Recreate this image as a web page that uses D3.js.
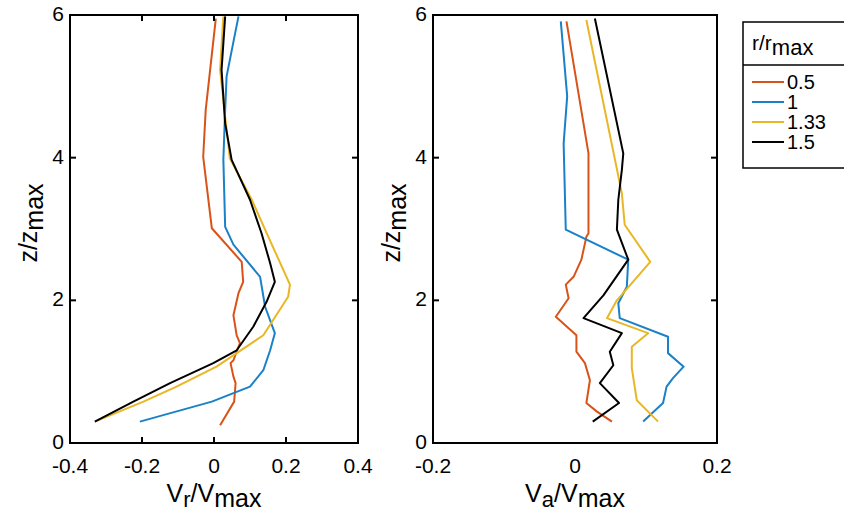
<!DOCTYPE html>
<html><head><meta charset="utf-8">
<script src="https://cdn.jsdelivr.net/npm/d3@7"></script>
<style>body{margin:0;background:#fff}svg{display:block;font-family:"Liberation Sans",Arial,sans-serif}</style>
</head><body><svg id="c" width="844" height="514"></svg>
<script>
// ---- data ----
const seriesNames = ["0.5", "1", "1.33", "1.5"];
const seriesColors = ["#D95319", "#1A80C8", "#E9B626", "#000000"];
// Left panel: [Vr/Vmax, z/zmax]
const vr_05 = [[0.017,0.25],[0.056,0.58],[0.06,0.84],[0.054,0.93],[0.046,1.12],[0.054,1.16],[0.072,1.40],[0.063,1.51],[0.054,1.79],[0.068,2.10],[0.081,2.26],[0.077,2.54],[-0.006,3.01],[-0.03,4.01],[-0.023,4.67],[0.005,5.95]];
const vr_1 = [[-0.206,0.30],[-0.006,0.58],[0.1,0.79],[0.137,1.02],[0.156,1.30],[0.169,1.54],[0.142,1.91],[0.128,2.33],[0.054,2.78],[0.031,3.03],[0.026,3.97],[0.031,4.67],[0.035,5.14],[0.068,5.98]];
const vr_133 = [[-0.331,0.30],[-0.196,0.58],[-0.104,0.79],[0.007,1.07],[0.063,1.26],[0.137,1.51],[0.206,2.05],[0.211,2.22],[0.151,2.89],[0.105,3.41],[0.044,3.99],[0.031,4.57],[0.017,5.23],[0.026,5.98]];
const vr_15 = [[-0.331,0.30],[-0.224,0.58],[-0.122,0.84],[-0.002,1.12],[0.063,1.30],[0.109,1.63],[0.146,1.98],[0.169,2.26],[0.156,2.52],[0.132,2.94],[0.1,3.41],[0.049,3.97],[0.031,4.48],[0.021,5.23],[0.031,5.98]];
// Right panel: [Va/Vmax, z/zmax]
const va_05 = [[0.052,0.30],[0.031,0.44],[0.016,0.56],[0.021,0.88],[0.014,1.12],[0.002,1.28],[0.002,1.51],[-0.027,1.77],[-0.009,2.03],[-0.013,2.22],[-0.002,2.33],[0.009,2.57],[0.016,2.89],[0.019,2.94],[0.019,4.06],[-0.012,5.91]];
const va_1 = [[0.096,0.30],[0.124,0.56],[0.129,0.79],[0.138,0.91],[0.153,1.07],[0.131,1.26],[0.131,1.49],[0.063,1.75],[0.061,1.96],[0.073,2.19],[0.075,2.57],[-0.013,2.99],[-0.016,4.20],[-0.011,4.86],[-0.020,5.91]];
const va_133 = [[0.117,0.30],[0.087,0.60],[0.080,1.05],[0.080,1.35],[0.103,1.54],[0.045,1.75],[0.059,2.00],[0.106,2.54],[0.070,3.06],[0.066,3.50],[0.016,5.93]];
const va_15 = [[0.025,0.30],[0.062,0.56],[0.035,0.84],[0.054,1.09],[0.049,1.28],[0.066,1.54],[0.012,1.75],[0.040,2.07],[0.075,2.57],[0.059,2.99],[0.061,3.41],[0.066,3.83],[0.068,4.06],[0.028,5.95]];
const leftXTicks = [-0.4, -0.2, 0, 0.2, 0.4];
const rightXTicks = [-0.2, 0, 0.2];
const yTicks = [0, 2, 4, 6];

(function () {
const svg = d3.select("#c");
const pTop = 15, pBot = 443;
const y = d3.scaleLinear().domain([0, 6]).range([pBot, pTop]);
const panels = [
  {x: d3.scaleLinear().domain([-0.4, 0.4]).range([70, 358]), data: [vr_05, vr_1, vr_133, vr_15], xt: leftXTicks, innerX: [-0.2, 0, 0.2], lab: ["V","r","/V","max"]},
  {x: d3.scaleLinear().domain([-0.2, 0.2]).range([433, 717]), data: [va_05, va_1, va_133, va_15], xt: rightXTicks, innerX: [], lab: ["V","a","/V","max"]}
];
const tl = 6;
panels.forEach(p => {
  const g = svg.append("g");
  const [x0, x1] = p.x.range();
  const line = d3.line().x(d => p.x(d[0])).y(d => y(d[1]));
  p.data.forEach((s, i) => {
    g.append("path").datum(s).attr("d", line).attr("fill", "none")
      .attr("stroke", seriesColors[i]).attr("stroke-width", 2).attr("stroke-linejoin", "round");
  });
  g.append("rect").attr("x", x0).attr("y", pTop).attr("width", x1 - x0).attr("height", pBot - pTop)
    .attr("fill", "none").attr("stroke", "#000").attr("stroke-width", 2);
  [2, 4].forEach(t => {
    g.append("line").attr("x1", x0).attr("x2", x0 + tl).attr("y1", y(t)).attr("y2", y(t)).attr("stroke", "#000").attr("stroke-width", 2);
    g.append("line").attr("x1", x1).attr("x2", x1 - tl).attr("y1", y(t)).attr("y2", y(t)).attr("stroke", "#000").attr("stroke-width", 2);
  });
  p.innerX.forEach(t => {
    g.append("line").attr("x1", p.x(t)).attr("x2", p.x(t)).attr("y1", pBot).attr("y2", pBot - tl).attr("stroke", "#000").attr("stroke-width", 2);
    g.append("line").attr("x1", p.x(t)).attr("x2", p.x(t)).attr("y1", pTop).attr("y2", pTop + tl).attr("stroke", "#000").attr("stroke-width", 2);
  });
  p.xt.forEach(t => {
    g.append("text").attr("x", p.x(t)).attr("y", 473).attr("text-anchor", "middle")
      .attr("font-size", 21).text(t === 0 ? "0" : String(t));
  });
  yTicks.forEach(t => {
    g.append("text").attr("x", x0 - 6).attr("y", y(t) + 6).attr("text-anchor", "end")
      .attr("font-size", 21).text(t);
  });
  const xl = g.append("text").attr("x", (x0 + x1) / 2).attr("y", 502).attr("text-anchor", "middle").attr("font-size", 25);
  xl.append("tspan").text(p.lab[0]);
  xl.append("tspan").attr("dy", 5).attr("font-size", 22).text(p.lab[1]);
  xl.append("tspan").attr("dy", -5).text(p.lab[2]);
  xl.append("tspan").attr("dy", 5).attr("font-size", 25).text(p.lab[3]);
  const yl = g.append("text").attr("transform", `translate(${x0 - 33},${(pTop + pBot) / 2 - 6}) rotate(-90)`)
    .attr("text-anchor", "middle").attr("font-size", 25);
  yl.append("tspan").text("z/z");
  yl.append("tspan").attr("dy", 6).attr("font-size", 25).text("max");
});

const lg = svg.append("g");
const lx = 743, ly = 22;
lg.append("rect").attr("x", lx).attr("y", ly).attr("width", 130).attr("height", 146)
  .attr("fill", "#fff").attr("stroke", "#000").attr("stroke-width", 1.5);
lg.append("line").attr("x1", lx).attr("x2", 844).attr("y1", 65).attr("y2", 65).attr("stroke", "#000").attr("stroke-width", 1.5);
const tt = lg.append("text").attr("x", 752).attr("y", 50).attr("font-size", 21);
tt.append("tspan").text("r/r");
tt.append("tspan").attr("dy", 5).attr("font-size", 22).text("max");
seriesNames.forEach((n, i) => {
  const yy = 82 + i * 20;
  lg.append("line").attr("x1", 752).attr("x2", 784).attr("y1", yy).attr("y2", yy)
    .attr("stroke", seriesColors[i]).attr("stroke-width", 2);
  lg.append("text").attr("x", 787).attr("y", yy + 7).attr("font-size", 20).text(n);
});
})();
</script></body></html>
